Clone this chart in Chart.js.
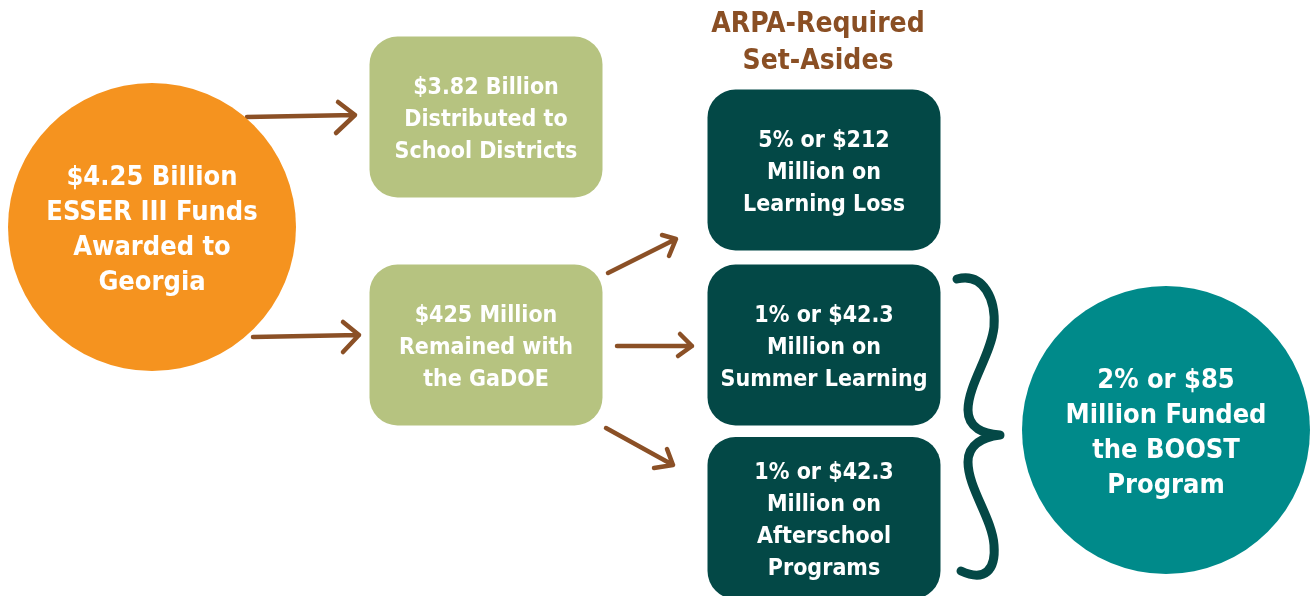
<!DOCTYPE html>
<html>
<head>
<meta charset="utf-8">
<script src="https://cdn.jsdelivr.net/npm/chart.js@4/dist/chart.umd.min.js"></script>
<style>
    html, body { margin: 0; padding: 0; background: #fff; }
    #wrap { width: 1310px; height: 596px; }
</style>
</head>
<body>
<div id="wrap"><canvas id="flow" width="1310" height="596"></canvas></div>
<script>
// Text of every node in the flow
const nodeText = [
    ['$4.25 Billion', 'ESSER III Funds', 'Awarded to', 'Georgia'],
    ['$3.82 Billion', 'Distributed to', 'School Districts'],
    ['$425 Million', 'Remained with', 'the GaDOE'],
    ['5% or $212', 'Million on', 'Learning Loss'],
    ['1% or $42.3', 'Million on', 'Summer Learning'],
    ['1% or $42.3', 'Million on', 'Afterschool', 'Programs'],
    ['2% or $85', 'Million Funded', 'the BOOST', 'Program']
];
const nodeShape = ['circle', 'box', 'box', 'box', 'box', 'box', 'circle'];
const nodeColor = ['#f5931f', '#b6c380', '#b6c380', '#034846', '#034846', '#034846', '#008a8a'];
const titleText = ['ARPA-Required', 'Set-Asides'];

// Layout, in axis units (x 0..1310, y 0..596 top-down)
const nodeX = [152, 486, 486, 824, 824, 824, 1166];
const nodeY = [227, 117, 345, 170, 345, 518, 430];
const nodeW = [288, 233, 233, 233, 233, 233, 288];
const nodeH = [288, 161, 161, 161, 161, 162, 288];
const titleX = 818, titleY = [25, 62];

// arrows: shaft start, tip, head end 1, head end 2
const arrows = [
    [247, 117, 355, 115, 338, 102, 336, 133],
    [253, 337, 359, 335, 343, 322, 343, 352],
    [608, 273, 676, 239, 662, 235, 669, 256],
    [617, 346, 692, 346, 680, 334, 678, 356],
    [606, 428, 673, 465, 667, 449, 654, 468]
];
// curly brace path (bezier segments)
const braceStart = [957, 279];
const braceCurves = [
    [984, 272, 996, 300, 994, 327],
    [991, 355, 968, 385, 968, 410],
    [968, 428, 984, 434, 1000, 435],
    [984, 437, 968, 444, 968, 462],
    [968, 488, 992, 518, 994, 545],
    [996, 570, 985, 582, 961, 571]
];

const FONT = '"DejaVu Sans Condensed", "Liberation Sans Narrow", Arial, sans-serif';

const flowPlugin = {
    id: 'flow',
    afterDatasetsDraw(chart) {
        const ctx = chart.ctx;
        const xs = chart.scales.x, ys = chart.scales.y;
        const px = v => xs.getPixelForValue(v);
        const py = v => ys.getPixelForValue(v);
        const pts = chart.getDatasetMeta(0).data;

        ctx.save();

        // brace
        ctx.strokeStyle = '#044846';
        ctx.lineWidth = 9;
        ctx.lineCap = 'round';
        ctx.lineJoin = 'round';
        ctx.beginPath();
        ctx.moveTo(px(braceStart[0]), py(braceStart[1]));
        braceCurves.forEach(c => ctx.bezierCurveTo(px(c[0]), py(c[1]), px(c[2]), py(c[3]), px(c[4]), py(c[5])));
        ctx.stroke();

        // arrows
        ctx.strokeStyle = '#8b5026';
        ctx.lineWidth = 4.5;
        arrows.forEach(a => {
            ctx.beginPath();
            ctx.moveTo(px(a[0]), py(a[1]));
            ctx.lineTo(px(a[2]), py(a[3]));
            ctx.moveTo(px(a[4]), py(a[5]));
            ctx.lineTo(px(a[2]), py(a[3]));
            ctx.lineTo(px(a[6]), py(a[7]));
            ctx.stroke();
        });

        // nodes
        pts.forEach((pt, i) => {
            const w = px(nodeX[i] + nodeW[i] / 2) - px(nodeX[i] - nodeW[i] / 2);
            const h = py(nodeY[i] + nodeH[i] / 2) - py(nodeY[i] - nodeH[i] / 2);
            ctx.fillStyle = nodeColor[i];
            ctx.beginPath();
            if (nodeShape[i] === 'circle') {
                ctx.arc(pt.x, pt.y, w / 2, 0, Math.PI * 2);
            } else {
                ctx.roundRect(pt.x - w / 2, pt.y - h / 2, w, h, 28);
            }
            ctx.fill();

            const lines = nodeText[i];
            const circle = nodeShape[i] === 'circle';
            const lh = circle ? 35 : 32;
            ctx.font = 'bold ' + (circle ? 27 : 23) + 'px ' + FONT;
            ctx.fillStyle = '#ffffff';
            ctx.textAlign = 'center';
            ctx.textBaseline = 'middle';
            lines.forEach((t, k) => {
                ctx.fillText(t, pt.x, pt.y + (k - (lines.length - 1) / 2) * lh + 3);
            });
        });

        // set-aside heading
        ctx.font = 'bold 28px ' + FONT;
        ctx.fillStyle = '#8a4f24';
        ctx.textAlign = 'center';
        ctx.textBaseline = 'middle';
        titleText.forEach((t, k) => ctx.fillText(t, px(titleX), py(titleY[k])));

        ctx.restore();
    }
};

new Chart(document.getElementById('flow'), {
    type: 'scatter',
    data: {
        datasets: [{
            data: nodeX.map((x, i) => ({ x: x, y: nodeY[i] })),
            pointRadius: 0,
            pointHoverRadius: 0
        }]
    },
    options: {
        responsive: false,
        animation: false,
        layout: { padding: 0 },
        plugins: { legend: { display: false }, tooltip: { enabled: false } },
        scales: {
            x: { type: 'linear', min: 0, max: 1310, display: false },
            y: { type: 'linear', min: 0, max: 596, reverse: true, display: false }
        }
    },
    plugins: [flowPlugin]
});
</script>
</body>
</html>
